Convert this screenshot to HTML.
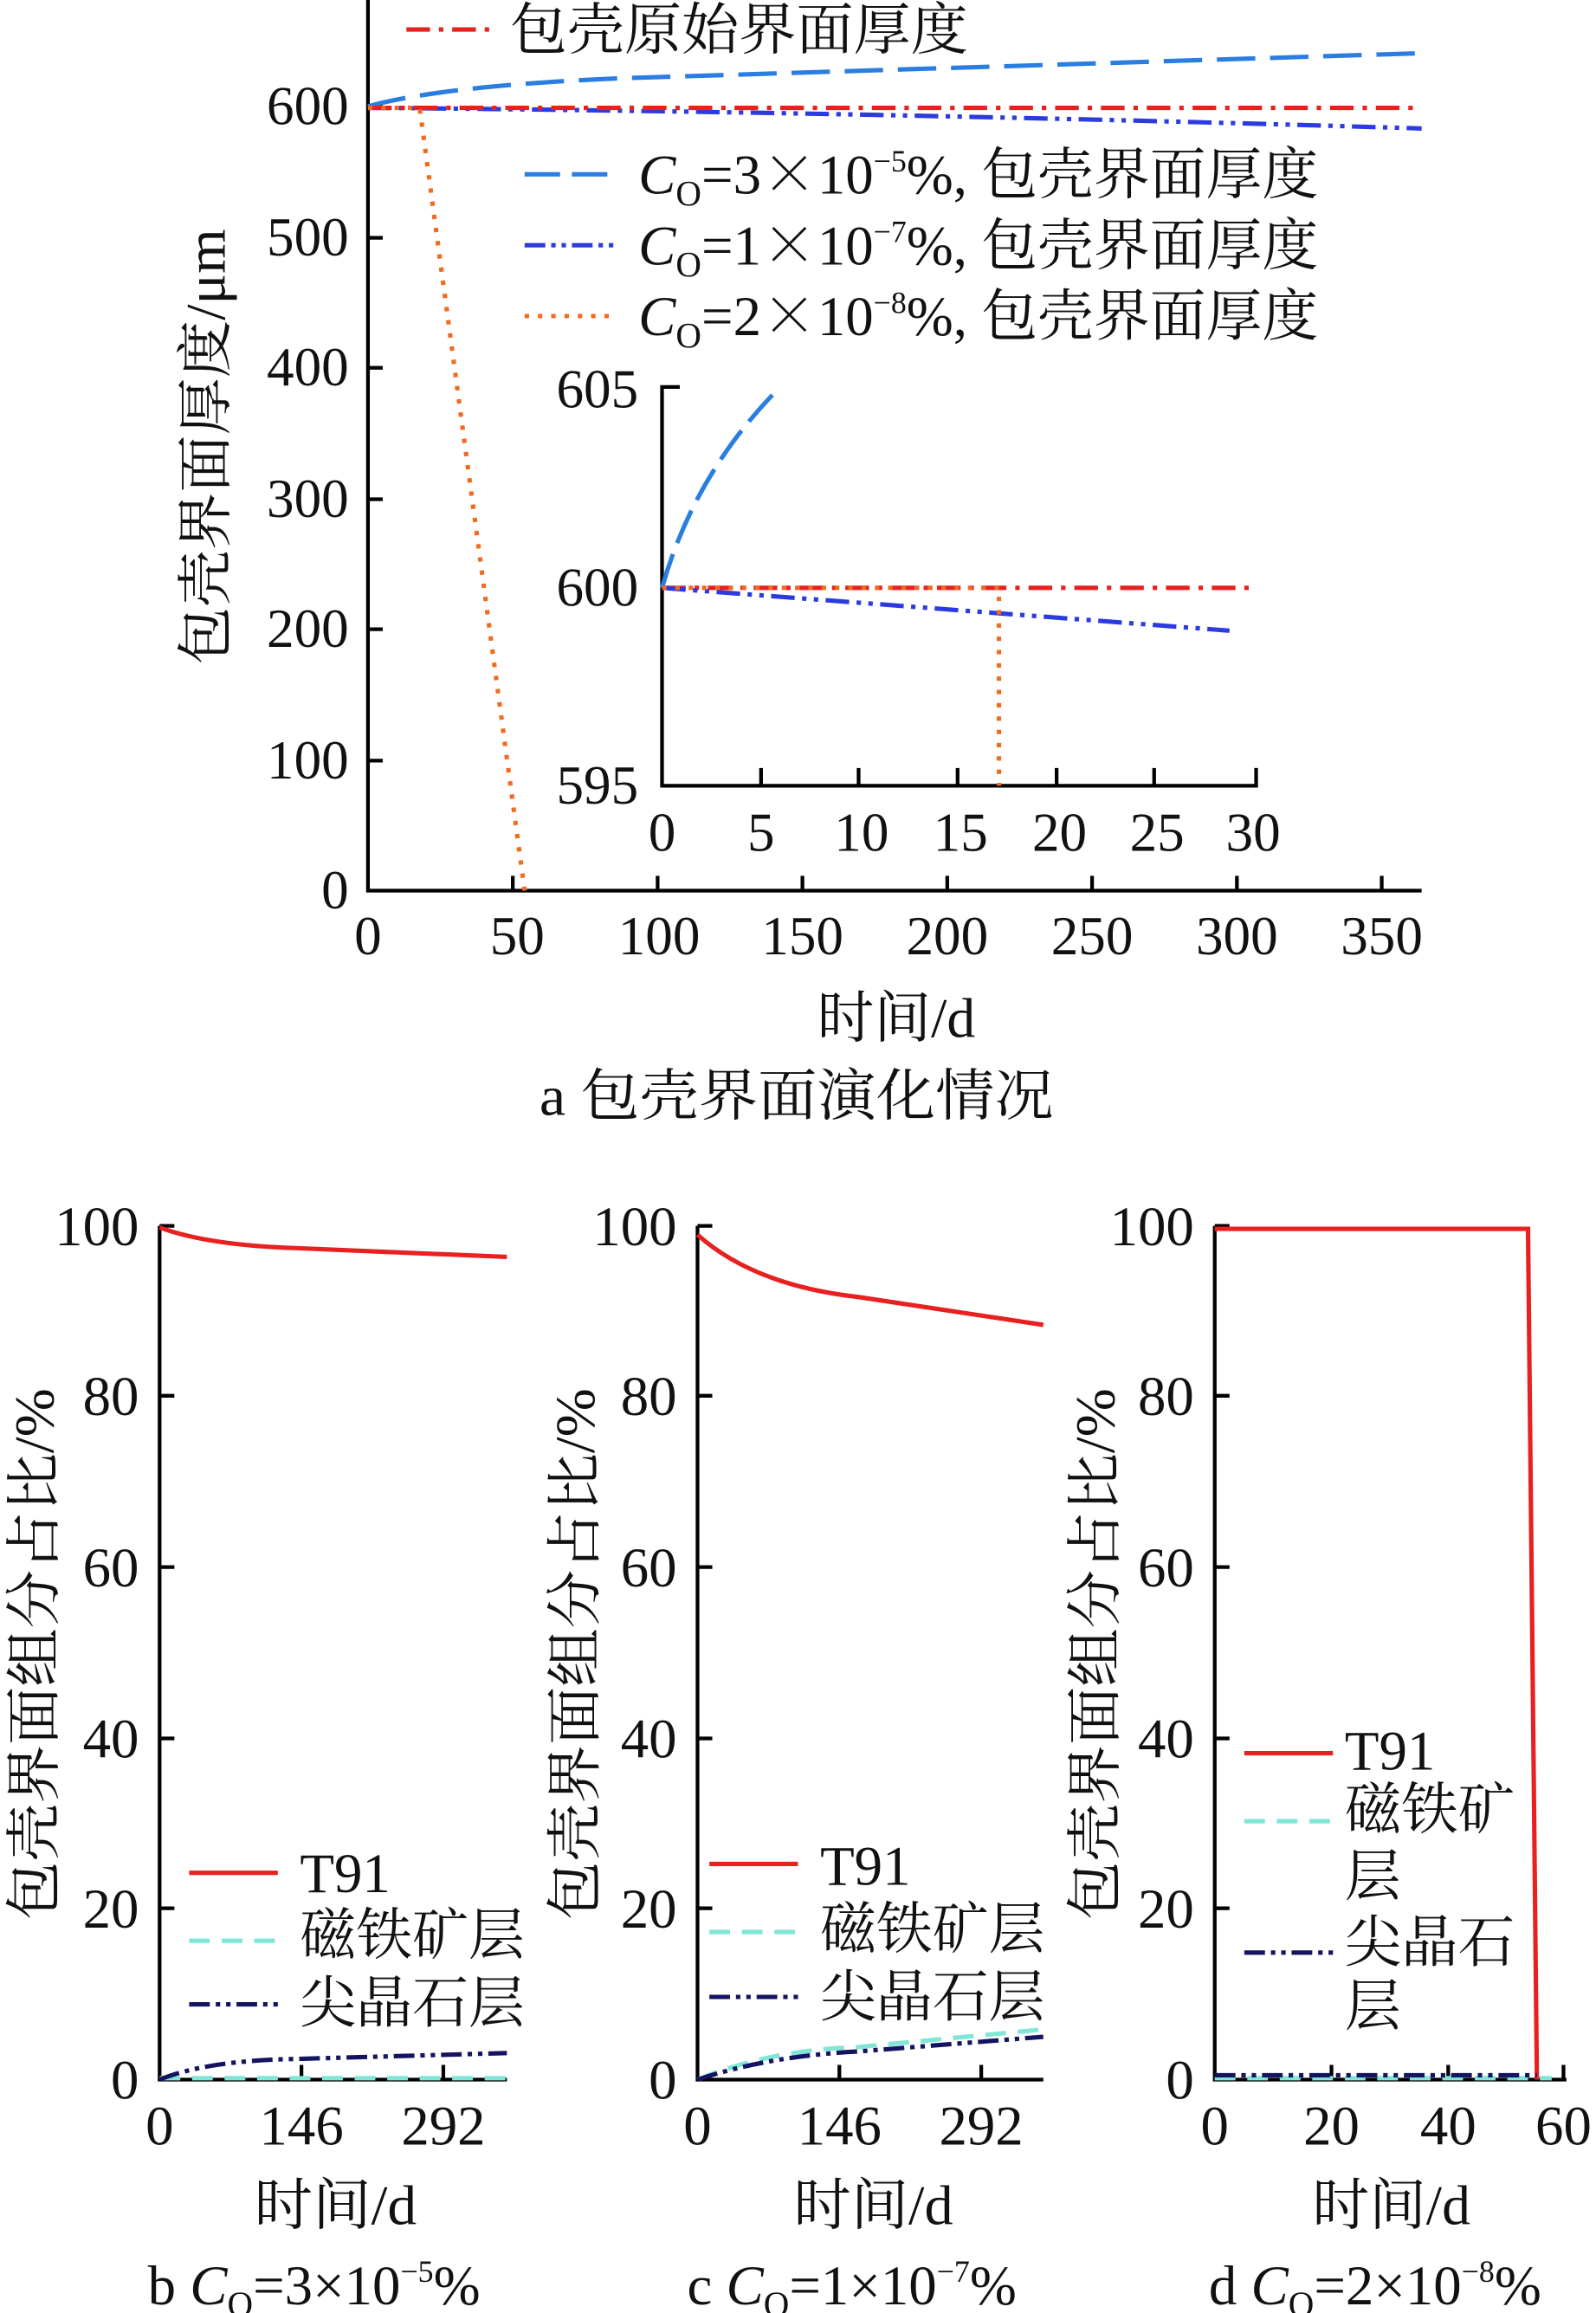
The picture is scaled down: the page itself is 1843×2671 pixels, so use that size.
<!DOCTYPE html>
<html><head><meta charset="utf-8"><style>
html,body{margin:0;padding:0;background:#fff;}
svg{display:block;}
text{font-family:"Liberation Serif","Noto Serif CJK SC",serif;fill:#111;}
</style></head><body>
<svg width="1843" height="2671" viewBox="0 0 1080 1566" preserveAspectRatio="none" xmlns="http://www.w3.org/2000/svg">
<g stroke="#000" stroke-width="2.5" fill="none">
<path d="M249,0 V603 H962"/>
<path d="M249,72 h10 M249,161 h10 M249,249 h10 M249,338 h10 M249,426 h10 M249,515 h10"/>
<path d="M347,603 v-10 M445,603 v-10 M543,603 v-10 M641,603 v-10 M739,603 v-10 M837,603 v-10 M935,603 v-10"/>
<path d="M460,262 H448 V532 H850 V520"/>
<path d="M448,398 h10 M515,532 v-12 M581,532 v-12 M648,532 v-12 M715,532 v-12 M781,532 v-12"/>
</g>
<g font-size="37" text-anchor="end">
<text x="236" y="84">600</text><text x="236" y="173">500</text><text x="236" y="261">400</text>
<text x="236" y="350">300</text><text x="236" y="438">200</text><text x="236" y="527">100</text><text x="236" y="615">0</text>
<text x="432" y="276">605</text><text x="432" y="410">600</text><text x="432" y="544">595</text>
</g>
<g font-size="37" text-anchor="middle">
<text x="249" y="646">0</text><text x="350" y="646">50</text><text x="446" y="646">100</text><text x="543" y="646">150</text>
<text x="641" y="646">200</text><text x="739" y="646">250</text><text x="837" y="646">300</text><text x="935" y="646">350</text>
<text x="448" y="576">0</text><text x="515" y="576">5</text><text x="583" y="576">10</text><text x="650" y="576">15</text>
<text x="717" y="576">20</text><text x="783" y="576">25</text><text x="848" y="576">30</text>
</g>
<g font-size="38">
<text x="553" y="702" textLength="107" lengthAdjust="spacingAndGlyphs">时间/d</text>
<text x="365" y="755" textLength="348" lengthAdjust="spacingAndGlyphs">a  包壳界面演化情况</text>
<text transform="translate(152,450) rotate(-90)" textLength="295" lengthAdjust="spacingAndGlyphs">包壳界面厚度/μm</text>
</g>
<g fill="none" stroke-width="3">
<path d="M249,72 Q300,58 420,53 L962,36" stroke="#2a7de1" stroke-dasharray="26,10"/>
<path d="M249,73 Q600,76 962,87" stroke="#2b3be0" stroke-dasharray="16,5,3,5,3,5"/>
<path d="M249,73 H962" stroke="#e82020" stroke-dasharray="16,6,3,6"/>
<path d="M249,73 H284 L355,603" stroke="#f06a20" stroke-dasharray="3,6"/>
<path d="M448,398 Q470,320 528,262" stroke="#2a7de1" stroke-dasharray="24,8"/>
<path d="M448,398 H850" stroke="#e82020" stroke-dasharray="16,6,3,6"/>
<path d="M448,398 L832,427" stroke="#2b3be0" stroke-dasharray="16,5,3,5,3,5"/>
<path d="M448,398 H676 V532" stroke="#f06a20" stroke-dasharray="3,6"/>
<path d="M275,20 H332" stroke="#e82020" stroke-dasharray="16,6,3,6"/>
<path d="M355,118 H415" stroke="#2a7de1" stroke-dasharray="24,8"/>
<path d="M355,166 H415" stroke="#2b3be0" stroke-dasharray="14,4,3,4,3,4"/>
<path d="M355,214 H415" stroke="#f06a20" stroke-dasharray="3,6"/>
</g>
<g font-size="38">
<text x="345" y="33" textLength="310" lengthAdjust="spacingAndGlyphs">包壳原始界面厚度</text>
<text x="432" y="131"><tspan font-style="italic">C</tspan><tspan font-size="24" dy="8">O</tspan><tspan dy="-8">=3</tspan><tspan font-family="Noto Serif CJK SC">×</tspan><tspan>10</tspan><tspan font-size="21" dy="-15">−5</tspan><tspan dy="15">%, 包壳界面厚度</tspan></text>
<text x="432" y="179"><tspan font-style="italic">C</tspan><tspan font-size="24" dy="8">O</tspan><tspan dy="-8">=1</tspan><tspan font-family="Noto Serif CJK SC">×</tspan><tspan>10</tspan><tspan font-size="21" dy="-15">−7</tspan><tspan dy="15">%, 包壳界面厚度</tspan></text>
<text x="432" y="227"><tspan font-style="italic">C</tspan><tspan font-size="24" dy="8">O</tspan><tspan dy="-8">=2</tspan><tspan font-family="Noto Serif CJK SC">×</tspan><tspan>10</tspan><tspan font-size="21" dy="-15">−8</tspan><tspan dy="15">%, 包壳界面厚度</tspan></text>
</g>

<g stroke="#000" stroke-width="2.5" fill="none">
<path d="M108,830 V1408 H343"/>
<path d="M108,830 h10 M108,945 h10 M108,1061 h10 M108,1177 h10 M108,1292 h10 M204,1408 v-10 M300,1408 v-10"/>
<path d="M472,830 V1408 H706"/>
<path d="M472,830 h10 M472,945 h10 M472,1061 h10 M472,1177 h10 M472,1292 h10 M568,1408 v-10 M664,1408 v-10"/>
<path d="M822,830 V1408 H1060"/>
<path d="M822,830 h10 M822,945 h10 M822,1061 h10 M822,1177 h10 M822,1292 h10 M901,1408 v-10 M980,1408 v-10 M1058,1408 v-10"/>
</g>
<g font-size="38" text-anchor="end">
<text x="94" y="843">100</text><text x="94" y="958">80</text><text x="94" y="1074">60</text><text x="94" y="1190">40</text><text x="94" y="1305">20</text><text x="94" y="1421">0</text>
<text x="458" y="843">100</text><text x="458" y="958">80</text><text x="458" y="1074">60</text><text x="458" y="1190">40</text><text x="458" y="1305">20</text><text x="458" y="1421">0</text>
<text x="808" y="843">100</text><text x="808" y="958">80</text><text x="808" y="1074">60</text><text x="808" y="1190">40</text><text x="808" y="1305">20</text><text x="808" y="1421">0</text>
</g>
<g font-size="38" text-anchor="middle">
<text x="108" y="1452">0</text><text x="204" y="1452">146</text><text x="300" y="1452">292</text>
<text x="472" y="1452">0</text><text x="568" y="1452">146</text><text x="664" y="1452">292</text>
<text x="822" y="1452">0</text><text x="901" y="1452">20</text><text x="980" y="1452">40</text><text x="1058" y="1452">60</text>
</g>
<g font-size="38">
<text x="172" y="1506" textLength="110" lengthAdjust="spacingAndGlyphs">时间/d</text>
<text x="537" y="1506" textLength="108" lengthAdjust="spacingAndGlyphs">时间/d</text>
<text x="888" y="1506" textLength="107" lengthAdjust="spacingAndGlyphs">时间/d</text>
<text transform="translate(36,1300) rotate(-90)" textLength="360" lengthAdjust="spacingAndGlyphs">包壳界面组分占比/%</text>
<text transform="translate(402,1300) rotate(-90)" textLength="360" lengthAdjust="spacingAndGlyphs">包壳界面组分占比/%</text>
<text transform="translate(754,1300) rotate(-90)" textLength="360" lengthAdjust="spacingAndGlyphs">包壳界面组分占比/%</text>
</g>
<g font-size="38">
<text x="100" y="1560">b  <tspan font-style="italic">C</tspan><tspan font-size="24" dy="8">O</tspan><tspan dy="-8">=3×10</tspan><tspan font-size="21" dy="-15">−5</tspan><tspan dy="15">%</tspan></text>
<text x="465" y="1560">c  <tspan font-style="italic">C</tspan><tspan font-size="24" dy="8">O</tspan><tspan dy="-8">=1×10</tspan><tspan font-size="21" dy="-15">−7</tspan><tspan dy="15">%</tspan></text>
<text x="818" y="1560">d  <tspan font-style="italic">C</tspan><tspan font-size="24" dy="8">O</tspan><tspan dy="-8">=2×10</tspan><tspan font-size="21" dy="-15">−8</tspan><tspan dy="15">%</tspan></text>
<text x="203" y="1281">T91</text><text x="203" y="1323" textLength="152" lengthAdjust="spacingAndGlyphs">磁铁矿层</text><text x="203" y="1369" textLength="152" lengthAdjust="spacingAndGlyphs">尖晶石层</text>
<text x="555" y="1276">T91</text><text x="555" y="1319" textLength="152" lengthAdjust="spacingAndGlyphs">磁铁矿层</text><text x="555" y="1365" textLength="152" lengthAdjust="spacingAndGlyphs">尖晶石层</text>
<text x="910" y="1198">T91</text><text x="910" y="1238" textLength="115" lengthAdjust="spacingAndGlyphs">磁铁矿</text><text x="910" y="1283">层</text><text x="910" y="1328" textLength="115" lengthAdjust="spacingAndGlyphs">尖晶石</text><text x="910" y="1371">层</text>
</g>
<g fill="none" stroke-width="3">
<path d="M108,831 Q140,843 200,845 L343,851" stroke="#e82020"/>
<path d="M108,1407 H343" stroke="#7fe6d8" stroke-dasharray="14,8"/>
<path d="M108,1408 Q140,1395 200,1394 L343,1390" stroke="#141460" stroke-dasharray="14,4,3,4,3,4"/>
<path d="M128,1268 H188" stroke="#e82020"/>
<path d="M128,1314 H188" stroke="#7fe6d8" stroke-dasharray="14,8"/>
<path d="M128,1357 H188" stroke="#141460" stroke-dasharray="14,4,3,4,3,4"/>
<path d="M472,836 Q510,870 580,878 L706,897" stroke="#e82020"/>
<path d="M472,1408 Q520,1388 580,1386 L706,1374" stroke="#7fe6d8" stroke-dasharray="14,8"/>
<path d="M472,1408 Q520,1392 580,1389 L706,1379" stroke="#141460" stroke-dasharray="14,4,3,4,3,4"/>
<path d="M480,1262 H540" stroke="#e82020"/>
<path d="M480,1308 H540" stroke="#7fe6d8" stroke-dasharray="14,8"/>
<path d="M480,1352 H540" stroke="#141460" stroke-dasharray="14,4,3,4,3,4"/>
<path d="M822,832 H1034 L1040,1408" stroke="#e82020"/>
<path d="M822,1407 H1050" stroke="#7fe6d8" stroke-dasharray="14,8"/>
<path d="M822,1405 H1040" stroke="#141460" stroke-dasharray="14,4,3,4,3,4"/>
<path d="M842,1187 H902" stroke="#e82020"/>
<path d="M842,1233 H902" stroke="#7fe6d8" stroke-dasharray="14,8"/>
<path d="M842,1322 H902" stroke="#141460" stroke-dasharray="14,4,3,4,3,4"/>
</g>
</svg>
</body></html>
